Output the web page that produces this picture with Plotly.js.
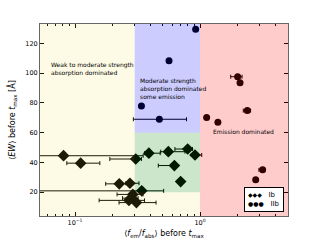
<!DOCTYPE html>
<html><head><meta charset="utf-8">
<script src="https://cdn.plot.ly/plotly-3.0.1.min.js"></script>
<style>html,body{margin:0;padding:0;background:#fff}#chart{width:320px;height:240px}</style>
</head><body><div id="chart"></div>
<script>
// Type Ib (diamonds)
const ibX = [0.081, 0.111, 0.306, 0.39, 0.558, 0.797, 0.912, 0.624, 0.70, 0.226, 0.275, 0.342, 0.29, 0.28, 0.27, 0.31];
const ibY = [44.5, 39.5, 42.3, 46.2, 47.2, 49.0, 45.0, 37.9, 27.1, 25.6, 26.0, 20.9, 18.5, 16.0, 14.5, 13.0];
const ibErrMinus = [0.075, 0.025, 0.116, 0.03, 0.073, 0.167, 0.06, 0.16, 0.04, 0.05, 0.02, 0.335, 0.073, 0.04, 0.114, 0.085];
const ibErrPlus  = [0.27, 0.047, 0.034, 0.09, 0.2, 0.073, 0.12, 0.02, 0.04, 0.04, 0.05, 0.17, 0.06, 0.04, 0.09, 0.135];
// Type IIb (circles)
const iibX = [0.923, 0.565, 0.34, 0.473, 1.13, 1.39, 2.0, 2.09, 2.39, 3.17, 2.79];
const iibY = [129.4, 108.3, 77.9, 69.0, 70.1, 67.0, 97.6, 93.6, 74.8, 35.0, 28.3];
const iibErrMinus = [0, 0, 0, 0.18, 0, 0, 0.24, 0, 0.17, 0.21, 0];
const iibErrPlus  = [0, 0, 0, 0.307, 0, 0, 0.17, 0, 0.15, 0.13, 0];
// Region boundaries
const xSplit = [0.3, 1.0];
const ySplit = [20, 60];
const regionLabels = ["Weak to moderate strength<br>absorption dominated",
                      "Moderate strength<br>absorption dominated<br>some emission",
                      "Emission dominated"];
const labelPos = [[0.062, 103], [0.317, 90], [1.22, 61]];
const seriesNames = ["Ib", "IIb"];
const legendGlyphs = ["◆◆◆", "●●●"];
const xTickVals = [0.1, 1];
const xTickText = ["10<sup>−1</sup>", "10<sup>0</sup>"];
const yTickVals = [20, 40, 60, 80, 100, 120];

const F = "DejaVu Sans, sans-serif";
const errStyle = (p, m) => ({type:'data', symmetric:false, array:p, arrayminus:m, color:'#000', thickness:1, width:2});

const traces = [
  {x: ibX, y: ibY, type:'scatter', mode:'markers', name:seriesNames[0],
   marker:{symbol:'diamond', size:9, color:'#000'}, error_x: errStyle(ibErrPlus, ibErrMinus)},
  {x: iibX, y: iibY, type:'scatter', mode:'markers', name:seriesNames[1],
   marker:{symbol:'circle', size:7, color:'#000'}, error_x: errStyle(iibErrPlus, iibErrMinus)}
];

const shapes = [
  {type:'rect', xref:'x', yref:'y', x0:0.001, x1:xSplit[0], y0:-100, y1:1000, fillcolor:'rgba(240,225,40,0.12)', line:{width:0}, layer:'above'},
  {type:'rect', xref:'x', yref:'y', x0:xSplit[0], x1:xSplit[1], y0:-100, y1:ySplit[0], fillcolor:'rgba(240,225,40,0.12)', line:{width:0}, layer:'above'},
  {type:'rect', xref:'x', yref:'y', x0:xSplit[0], x1:xSplit[1], y0:ySplit[0], y1:ySplit[1], fillcolor:'rgba(0,128,0,0.2)', line:{width:0}, layer:'above'},
  {type:'rect', xref:'x', yref:'y', x0:xSplit[0], x1:xSplit[1], y0:ySplit[1], y1:1000, fillcolor:'rgba(0,0,255,0.2)', line:{width:0}, layer:'above'},
  {type:'rect', xref:'x', yref:'y', x0:xSplit[1], x1:1000, y0:-100, y1:1000, fillcolor:'rgba(255,0,0,0.2)', line:{width:0}, layer:'above'}
];

const annotations = regionLabels.map((t, i) => ({
  text: t, xref:'x', yref:'y', x: Math.log10(labelPos[i][0]), y: labelPos[i][1],
  xanchor:'left', yanchor:'middle', align:'left', showarrow:false,
  font:{family:F, size:6, color:'#000'}
}));
// compact matplotlib-style legend box (3 markers per entry)
annotations.push({
  text: seriesNames.map((n, i) => '<span style="font-size:6px">' + legendGlyphs[i] + '</span>   ' + n).join('<br>'),
  xref:'paper', yref:'paper', x:0.984, y:0.021, xanchor:'right', yanchor:'bottom',
  align:'left', showarrow:false, bgcolor:'#fff', bordercolor:'#000', borderwidth:1, borderpad:3,
  font:{family:F, size:7, color:'#000'}
});

const layout = {
  width:320, height:240,
  margin:{l:40, r:32, t:24, b:24},
  paper_bgcolor:'#fff', plot_bgcolor:'#fff',
  showlegend:false,
  xaxis:{type:'log', range:[-1.28, 0.704], tickvals:xTickVals, ticktext:xTickText,
         ticks:'inside', ticklen:4, tickcolor:'#000', showline:true, linecolor:'#666', linewidth:1, mirror:'ticks',
         showgrid:false, zeroline:false, tickfont:{family:F, size:6.5, color:'#000'},
         minor:{ticks:'inside', ticklen:2, tickcolor:'#000', dtick:'D1', showgrid:false},
         title:{text:'⟨<i>f</i><sub>em</sub>/<i>f</i><sub>abs</sub>⟩ before <i>t</i><sub>max</sub>', font:{family:F, size:8, color:'#000'}, standoff:4}},
  yaxis:{range:[4, 133], tickvals:yTickVals, ticks:'inside', ticklen:4, tickcolor:'#000',
         showline:true, linecolor:'#666', linewidth:1, mirror:'ticks', showgrid:false, zeroline:false,
         tickfont:{family:F, size:6.5, color:'#000'},
         title:{text:'⟨<i>EW</i>⟩ before <i>t</i><sub>max</sub> [Å]', font:{family:F, size:8, color:'#000'}, standoff:8}},
  shapes: shapes,
  annotations: annotations
};

Plotly.newPlot('chart', traces, layout, {staticPlot:true, displayModeBar:false});
</script></body></html>
